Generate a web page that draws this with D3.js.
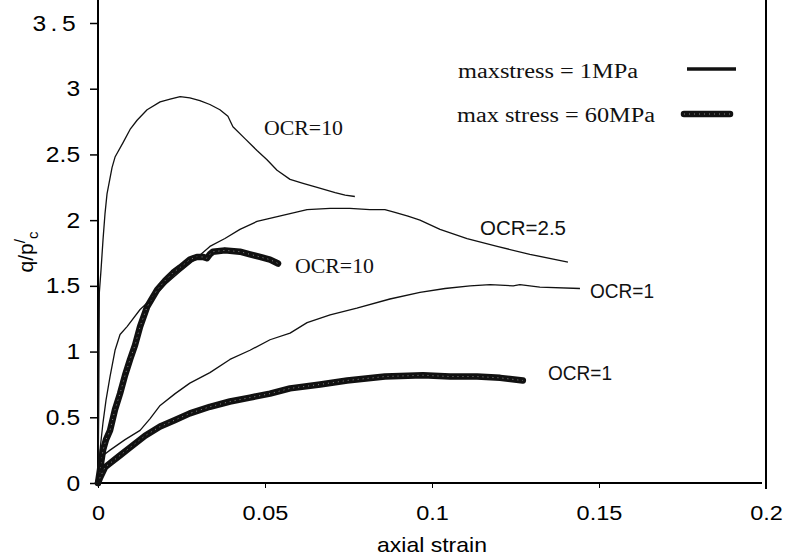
<!DOCTYPE html>
<html lang="en">
<head>
<meta charset="UTF-8">
<title>q/p'c vs axial strain</title>
<style>
    body { margin: 0; padding: 0; background: #ffffff; }
    svg { display: block; background: #ffffff; }
    .sans { font-family: Arial, "Liberation Sans", sans-serif; }
    .serif { font-family: "Times New Roman", "Liberation Serif", serif; }
</style>
</head>
<body>
<svg width="788" height="559"></svg>
<script src="https://d3js.org/d3.v7.min.js"></script>
<script>
// data (strain, q/p'c)
const ocr10_1MPa_strain = [0, 0.0002, 0.0003, 0.0004, 0.0009, 0.0015, 0.0021, 0.0027, 0.0042, 0.0051, 0.0075, 0.0096, 0.0117, 0.0147, 0.0186, 0.0216, 0.0246, 0.0275, 0.0305, 0.0335, 0.0365, 0.0389, 0.0404, 0.0440, 0.0476, 0.0506, 0.0536, 0.0575, 0.0614, 0.0656, 0.0710, 0.0740, 0.0769];
const ocr10_1MPa_q      = [0, 0.50, 1.00, 1.45, 1.62, 1.85, 2.05, 2.20, 2.40, 2.48, 2.59, 2.69, 2.76, 2.84, 2.90, 2.92, 2.94, 2.93, 2.91, 2.88, 2.84, 2.79, 2.71, 2.62, 2.53, 2.46, 2.38, 2.31, 2.28, 2.25, 2.21, 2.19, 2.18];

const ocr25_1MPa_strain = [0, 0.0006, 0.0015, 0.0024, 0.0036, 0.0051, 0.0066, 0.0087, 0.0126, 0.0156, 0.0201, 0.0246, 0.0290, 0.0335, 0.0380, 0.0425, 0.0476, 0.0524, 0.0575, 0.0626, 0.0695, 0.0754, 0.0814, 0.0859, 0.0889, 0.0928, 0.0964, 0.1024, 0.1105, 0.1195, 0.1293, 0.1407];
const ocr25_1MPa_q      = [0, 0.25, 0.46, 0.63, 0.81, 1.01, 1.13, 1.19, 1.32, 1.39, 1.51, 1.61, 1.70, 1.80, 1.86, 1.93, 1.99, 2.02, 2.05, 2.08, 2.09, 2.09, 2.08, 2.08, 2.06, 2.03, 2.00, 1.93, 1.86, 1.80, 1.74, 1.68];

const ocr1_1MPa_strain = [0, 0.0006, 0.0015, 0.0036, 0.0081, 0.0126, 0.0156, 0.0186, 0.0231, 0.0275, 0.0335, 0.0395, 0.0455, 0.0515, 0.0575, 0.0626, 0.0695, 0.0775, 0.0874, 0.0964, 0.1039, 0.1114, 0.1174, 0.1243, 0.1263, 0.1323, 0.1443];
const ocr1_1MPa_q      = [0, 0.14, 0.21, 0.25, 0.33, 0.40, 0.49, 0.59, 0.68, 0.76, 0.84, 0.94, 1.01, 1.09, 1.14, 1.22, 1.28, 1.33, 1.40, 1.45, 1.48, 1.50, 1.51, 1.50, 1.51, 1.49, 1.48];

const ocr10_60MPa_strain = [0, 0.0006, 0.0015, 0.0024, 0.0036, 0.0051, 0.0066, 0.0081, 0.0096, 0.0111, 0.0126, 0.0147, 0.0177, 0.0201, 0.0225, 0.0246, 0.0275, 0.0296, 0.0314, 0.0326, 0.0335, 0.0344, 0.0380, 0.0425, 0.0455, 0.0485, 0.0515, 0.0539];
const ocr10_60MPa_q      = [0, 0.10, 0.25, 0.33, 0.40, 0.56, 0.68, 0.82, 0.94, 1.05, 1.19, 1.34, 1.47, 1.54, 1.60, 1.64, 1.70, 1.72, 1.72, 1.71, 1.74, 1.76, 1.77, 1.76, 1.74, 1.72, 1.70, 1.67];

const ocr1_60MPa_strain = [0, 0.0006, 0.0021, 0.0036, 0.0066, 0.0096, 0.0141, 0.0186, 0.0231, 0.0275, 0.0335, 0.0395, 0.0455, 0.0515, 0.0575, 0.0665, 0.0746, 0.0859, 0.0973, 0.1054, 0.1135, 0.1204, 0.1272];
const ocr1_60MPa_q      = [0, 0.04, 0.12, 0.15, 0.21, 0.27, 0.36, 0.43, 0.48, 0.53, 0.58, 0.62, 0.65, 0.68, 0.72, 0.75, 0.78, 0.81, 0.82, 0.81, 0.81, 0.80, 0.78];

const xTicks = [0, 0.05, 0.1, 0.15, 0.2];
const xTickLabels = ["0", "0.05", "0.1", "0.15", "0.2"];
const yTicks = [0, 0.5, 1, 1.5, 2, 2.5, 3, 3.5];
const yTickLabels = ["0", "0.5", "1", "1.5", "2", "2.5", "3", "3.5"];

const legendLabels = ["maxstress = 1MPa", "max stress = 60MPa"];

let svg = d3.select("svg");

let x = d3.scaleLinear().domain([0, 0.2]).range([98, 766]);
let y = d3.scaleLinear().domain([0, 3.5]).range([483, 23]);

// axes
let xAxis = d3.axisBottom(x)
    .tickValues(xTicks)
    .tickFormat((d, i) => xTickLabels[i])
    .tickSize(5)
    .tickPadding(17);

let gx = svg.append("g")
    .attr("class", "sans")
    .attr("transform", "translate(0," + y(0) + ")")
    .call(xAxis);
gx.select(".domain").remove();
gx.selectAll(".tick line").attr("stroke", "#000").attr("stroke-width", 1);
gx.selectAll(".tick text")
    .attr("fill", "#000")
    .style("font-size", "21px")
    .attr("transform", "scale(1.12,1)");

let yAxis = d3.axisLeft(y)
    .tickValues(yTicks)
    .tickFormat((d, i) => yTickLabels[i])
    .tickSize(8)
    .tickPadding(8);

let gy = svg.append("g")
    .attr("class", "sans")
    .attr("transform", "translate(" + x(0) + ",0)")
    .call(yAxis);
gy.select(".domain").remove();
gy.selectAll(".tick line").attr("stroke", "#000").attr("stroke-width", 1.5);
gy.selectAll(".tick text")
    .attr("fill", "#000")
    .style("font-size", "22px")
    .attr("transform", "scale(1.12,1)")
    .style("letter-spacing", d => d === 3.5 ? "4px" : null);

// frame lines
svg.append("line")
    .attr("x1", x(0)).attr("x2", x(0))
    .attr("y1", 0).attr("y2", y(0))
    .attr("stroke", "#000").attr("stroke-width", 2);
svg.append("line")
    .attr("x1", x(0)).attr("x2", x(0.2) - 4)
    .attr("y1", y(0)).attr("y2", y(0))
    .attr("stroke", "#000").attr("stroke-width", 2);
svg.append("line")
    .attr("x1", x(0.2)).attr("x2", x(0.2))
    .attr("y1", 0).attr("y2", y(0) + 6)
    .attr("stroke", "#000").attr("stroke-width", 2);

// axis titles
svg.append("text")
    .attr("class", "sans")
    .attr("x", 432).attr("y", 552)
    .attr("text-anchor", "middle")
    .attr("textLength", 110).attr("lengthAdjust", "spacingAndGlyphs")
    .style("font-size", "21px").attr("fill", "#000")
    .text("axial strain");

let ylab = svg.append("text")
    .attr("class", "sans")
    .attr("transform", "translate(33,252) rotate(-90)")
    .attr("text-anchor", "middle")
    .style("font-size", "21px").attr("fill", "#000");
ylab.append("tspan").text("q/p");
ylab.append("tspan").attr("dy", -8).style("font-size", "15px").text("/");
ylab.append("tspan").attr("dy", 13).style("font-size", "15px").text("c");

// curves
let line = d3.line()
    .x(d => x(d[0]))
    .y(d => y(d[1]))
    .curve(d3.curveLinear);

function pairs(xs, ys) {
    return xs.map((v, i) => [v, ys[i]]);
}

let thin = [
    pairs(ocr10_1MPa_strain, ocr10_1MPa_q),
    pairs(ocr25_1MPa_strain, ocr25_1MPa_q),
    pairs(ocr1_1MPa_strain, ocr1_1MPa_q)
];
let thick = [
    pairs(ocr10_60MPa_strain, ocr10_60MPa_q),
    pairs(ocr1_60MPa_strain, ocr1_60MPa_q)
];

svg.append("g").selectAll("path")
    .data(thick)
    .enter()
    .append("path")
    .attr("d", line)
    .attr("fill", "none")
    .attr("stroke", "#111")
    .attr("stroke-width", 6.5)
    .attr("stroke-linecap", "round")
    .attr("stroke-linejoin", "round");

svg.append("g").selectAll("path")
    .data(thick)
    .enter()
    .append("path")
    .attr("d", line)
    .attr("fill", "none")
    .attr("stroke", "#8a8a8a")
    .attr("stroke-width", 1)
    .attr("stroke-dasharray", "1 4");

svg.append("g").selectAll("path")
    .data(thin)
    .enter()
    .append("path")
    .attr("d", line)
    .attr("fill", "none")
    .attr("stroke", "#111")
    .attr("stroke-width", 1.3)
    .attr("stroke-linejoin", "round");

// legend
let legend = svg.append("g").attr("class", "serif");
legend.append("text")
    .attr("x", 458).attr("y", 78)
    .attr("textLength", 180).attr("lengthAdjust", "spacingAndGlyphs")
    .style("font-size", "20px").attr("fill", "#111")
    .text(legendLabels[0]);
legend.append("text")
    .attr("x", 457).attr("y", 122)
    .attr("textLength", 198).attr("lengthAdjust", "spacingAndGlyphs")
    .style("font-size", "20px").attr("fill", "#111")
    .text(legendLabels[1]);
legend.append("line")
    .attr("x1", 687).attr("x2", 736).attr("y1", 69).attr("y2", 69)
    .attr("stroke", "#111").attr("stroke-width", 3.5);
legend.append("line")
    .attr("x1", 684).attr("x2", 730).attr("y1", 114).attr("y2", 114)
    .attr("stroke", "#111").attr("stroke-width", 6.5).attr("stroke-linecap", "round");
legend.append("line")
    .attr("x1", 684).attr("x2", 730).attr("y1", 114).attr("y2", 114)
    .attr("stroke", "#8a8a8a").attr("stroke-width", 1).attr("stroke-dasharray", "1 4");

// curve labels
const curveLabels = [
    { t: "OCR=10", x: 264, y: 135, w: 79, cls: "serif", fs: 20 },
    { t: "OCR=10", x: 295, y: 273, w: 79, cls: "serif", fs: 20 },
    { t: "OCR=2.5", x: 480, y: 235, w: 86, cls: "sans", fs: 20 },
    { t: "OCR=1", x: 590, y: 298, w: 64, cls: "sans", fs: 20 },
    { t: "OCR=1", x: 548, y: 380, w: 64, cls: "sans", fs: 20 }
];
svg.append("g").selectAll("text")
    .data(curveLabels)
    .enter()
    .append("text")
    .attr("class", d => d.cls)
    .attr("x", d => d.x).attr("y", d => d.y)
    .attr("textLength", d => d.w).attr("lengthAdjust", "spacingAndGlyphs")
    .style("font-size", d => d.fs + "px")
    .attr("fill", "#111")
    .text(d => d.t);
</script>
</body>
</html>
